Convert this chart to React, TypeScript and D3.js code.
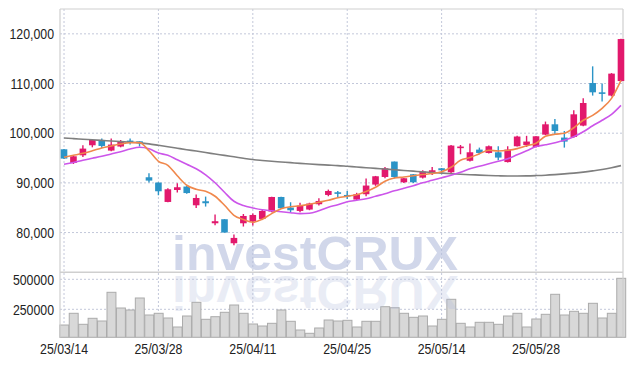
import * as d3 from "d3";
import { useEffect, useRef } from "react";

// trading days shown on the chart (yy/mm/dd)
const dates = [
  "25/03/14", "25/03/17", "25/03/18", "25/03/19", "25/03/20", "25/03/21", "25/03/24", "25/03/25", "25/03/26", "25/03/27",
  "25/03/28", "25/03/31", "25/04/01", "25/04/02", "25/04/03", "25/04/04", "25/04/07", "25/04/08", "25/04/09", "25/04/10",
  "25/04/11", "25/04/14", "25/04/15", "25/04/16", "25/04/17", "25/04/18", "25/04/21", "25/04/22", "25/04/23", "25/04/24",
  "25/04/25", "25/04/28", "25/04/29", "25/04/30", "25/05/02", "25/05/07", "25/05/08", "25/05/09", "25/05/12", "25/05/13",
  "25/05/14", "25/05/15", "25/05/16", "25/05/19", "25/05/20", "25/05/21", "25/05/22", "25/05/23", "25/05/26", "25/05/27",
  "25/05/28", "25/05/29", "25/05/30", "25/06/02", "25/06/04", "25/06/05", "25/06/09", "25/06/10", "25/06/11", "25/06/12",
];

const opens = [
  96760, 94000, 95550, 97570, 98510, 96500, 97310, 98510, 98370, 91130,
  90060, 86160, 88570, 89260, 85490, 86300, 81870, 82680, 77850, 81870,
  82220, 82740, 84230, 87160, 85030, 84350, 84630, 85700, 87570, 88110,
  87570, 86640, 87710, 89660, 91190, 94290, 90120, 91730, 91060, 92130,
  92940, 92130, 97040, 94450, 96700, 96020, 96160, 94190, 97370, 97630,
  97230, 99710, 101790, 99120, 99240, 101530, 110100, 108230, 107570, 110500,
];
const highs = [
  96800, 95400, 97570, 98700, 98920, 98920, 98630, 98920, 98400, 91930,
  90100, 88900, 89920, 89400, 87650, 87240, 83620, 82700, 79600, 83740,
  83820, 84750, 87200, 87200, 86100, 85980, 86000, 86900, 88650, 88370,
  88370, 88000, 90860, 91400, 93200, 94300, 91000, 91800, 92540, 93200,
  93000, 97600, 97630, 97910, 97100, 97500, 97370, 97370, 99470, 99470,
  99400, 102340, 102860, 100440, 104610, 107020, 113460, 109980, 112100, 119000,
];
const lows = [
  94800, 93800, 95210, 97160, 97020, 96360, 97160, 97710, 97310, 90060,
  87510, 86100, 88050, 87800, 84950, 85230, 81470, 80000, 77450, 81210,
  81410, 82600, 84100, 84800, 84090, 84090, 84500, 85430, 87310, 87160,
  86760, 86500, 87310, 89400, 90930, 90900, 90000, 90000, 90900, 91590,
  91730, 92000, 95760, 94300, 95760, 95900, 94550, 94100, 97300, 97230,
  97100, 99600, 99780, 97100, 99100, 101400, 107570, 106360, 107400, 110400,
];
const closes = [
  94890, 95350, 96900, 98630, 97430, 97710, 98230, 98110, 97970, 90460,
  88310, 88710, 89120, 87950, 86960, 85900, 82280, 80000, 78920, 83340,
  83540, 84350, 87160, 84890, 84490, 85430, 85840, 86360, 88370, 87850,
  87370, 87710, 89460, 91330, 92940, 91190, 90930, 90120, 92270, 92540,
  92540, 97510, 97310, 96160, 96020, 97370, 95090, 96700, 99330, 98320,
  99380, 101790, 100440, 98310, 103800, 106080, 108230, 107970, 111990, 118950,
];
const volumes = [
  119000, 216700, 125000, 175000, 152500, 391700, 260800, 244200, 344200, 202500,
  216700, 177500, 102500, 194200, 308300, 166700, 188300, 225000, 285800, 216700,
  127500, 110800, 133300, 244200, 150000, 77500, 50000, 94200, 160800, 152500,
  158300, 102500, 150000, 150000, 271700, 263300, 216700, 183300, 194200, 110800,
  166700, 333300, 133300, 102500, 141700, 141700, 125000, 194200, 216700, 102500,
  169200, 208300, 375000, 202500, 233300, 216700, 300000, 177500, 216700, 508300,
];

// moving averages
const ma5 = [
  95150, 95550, 95950, 96460, 97020, 97430, 97810, 98070, 98110, 96460,
  94350, 93540, 91430, 89520, 88710, 88310, 87310, 85490, 83480, 82620,
  82070, 82680, 83820, 84790, 85190, 85390, 85700, 86100, 86500, 87000,
  87310, 87610, 88250, 89120, 90320, 90970, 91170, 91430, 91670, 91890,
  92230, 93140, 94550, 95090, 95860, 96560, 96420, 96560, 96900, 97470,
  97970, 99380, 99780, 99980, 101090, 102600, 103600, 105010, 107020, 110640,
];
const ma20 = [
  93740, 94110, 94550, 94950, 95350, 95820, 96260, 96800, 97160, 96860,
  96020, 95550, 94650, 93740, 92840, 91630, 90020, 88110, 86300, 85430,
  84950, 84590, 84390, 84190, 83990, 83820, 83880, 84390, 85090, 85600,
  86200, 86500, 86800, 87310, 87810, 88410, 88910, 89420, 90020, 90520,
  91030, 91530, 92130, 92840, 93340, 93840, 94350, 94850, 95660, 96460,
  97300, 97670, 98070, 98570, 99280, 100280, 101490, 102600, 103800, 105610,
];
const ma60 = [
  99040, 98910, 98790, 98670, 98550, 98430, 98310, 98190, 98050, 97850,
  97570, 97280, 96980, 96680, 96400, 96100, 95820, 95530, 95250, 94970,
  94690, 94510, 94350, 94210, 94070, 93920, 93800, 93680, 93580, 93480,
  93340, 93200, 93060, 92920, 92780, 92640, 92500, 92360, 92210, 92090,
  91970, 91850, 91750, 91650, 91570, 91490, 91430, 91390, 91390, 91410,
  91470, 91550, 91670, 91810, 91970, 92170, 92420, 92700, 93060, 93480,
];

const priceTicks = [80000, 90000, 100000, 110000, 120000];
const volumeTicks = [250000, 500000];
const labelEvery = 10;

export default function App() {
  const ref = useRef<SVGSVGElement | null>(null);

  useEffect(() => {
    const el = ref.current;
    if (!el) return;
    const svg = d3.select<SVGSVGElement, unknown>(el);
    svg.selectAll("*").remove();

    const width = 634;
    const height = 366;
    const left = 60;
    const right = 623;
    const top = 9;
    const split = 272.3;
    const bottom = 337.3;

    const upColor = "#e2186c";
    const downColor = "#2b94c7";
    const gridColor = "#c3c8da";
    const frameColor = "#cfcfcf";
    const squeeze = 0.85; // narrow look of the tick labels

    svg.attr("width", width).attr("height", height).attr("viewBox", `0 0 ${width} ${height}`);
    svg.append("rect").attr("width", width).attr("height", height).attr("fill", "#fff");

    const idx = d3.range(dates.length).map(String);
    const x = d3.scaleBand<string>().domain(idx).range([59.3, 625.7]).padding(0);
    const cx = (i: number) => (x(String(i)) ?? 0) + x.bandwidth() / 2;

    const y = d3.scaleLinear().domain([72000, 125000]).range([split, top]);
    const yv = d3.scaleLinear().domain([16700, 558300]).range([bottom, split]);

    // grid
    const grid = svg.append("g").attr("stroke", gridColor).attr("stroke-dasharray", "2,2").attr("stroke-width", 1);
    grid
      .selectAll("line.hp")
      .data(priceTicks)
      .enter()
      .append("line")
      .attr("x1", left)
      .attr("x2", right)
      .attr("y1", (d) => y(d))
      .attr("y2", (d) => y(d));
    grid
      .selectAll("line.hv")
      .data(volumeTicks)
      .enter()
      .append("line")
      .attr("x1", left)
      .attr("x2", right)
      .attr("y1", (d) => yv(d))
      .attr("y2", (d) => yv(d));
    const labelIdx = d3.range(0, dates.length, labelEvery);
    grid
      .selectAll("line.v")
      .data(labelIdx)
      .enter()
      .append("line")
      .attr("x1", (i) => cx(i))
      .attr("x2", (i) => cx(i))
      .attr("y1", top)
      .attr("y2", bottom);

    // volume bars
    svg
      .append("g")
      .selectAll("rect")
      .data(volumes)
      .enter()
      .append("rect")
      .attr("x", (_, i) => (x(String(i)) ?? 0) + 0.5)
      .attr("y", (d) => yv(d))
      .attr("width", x.bandwidth() - 0.5)
      .attr("height", (d) => bottom - yv(d))
      .attr("fill", "#d8d8d8")
      .attr("stroke", "#ababab")
      .attr("stroke-width", 1);

    // watermark + reflection
    const wm = svg.append("g").attr("pointer-events", "none");
    const wmText = (g: d3.Selection<SVGGElement, unknown, null, undefined>, op: number) =>
      g
        .append("text")
        .attr("x", 172)
        .attr("y", 270)
        .attr("textLength", 286)
        .attr("lengthAdjust", "spacingAndGlyphs")
        .attr("font-family", "'Liberation Sans', Arial, sans-serif")
        .attr("font-weight", 700)
        .attr("font-size", 48)
        .attr("fill", "#b4bedd")
        .attr("opacity", op)
        .text("investCRUX");
    wmText(wm, 0.6);
    wmText(wm.append("g").attr("transform", "translate(0,546) scale(1,-1)"), 0.28);

    // frame
    const frame = svg.append("g").attr("stroke", frameColor).attr("stroke-width", 1.2);
    frame.append("line").attr("x1", left).attr("x2", left).attr("y1", top).attr("y2", bottom);
    frame.append("line").attr("x1", right).attr("x2", right).attr("y1", top).attr("y2", bottom);
    frame.append("line").attr("x1", left).attr("x2", right).attr("y1", top).attr("y2", top);
    frame.append("line").attr("x1", left).attr("x2", right).attr("y1", split).attr("y2", split).attr("stroke-width", 1.6);

    // candles
    const bodyW = x.bandwidth() * 0.7;
    const candles = svg.append("g").selectAll("g").data(dates).enter().append("g");
    candles
      .append("line")
      .attr("x1", (_, i) => cx(i))
      .attr("x2", (_, i) => cx(i))
      .attr("y1", (_, i) => y(highs[i]))
      .attr("y2", (_, i) => y(lows[i]))
      .attr("stroke", (_, i) => (closes[i] >= opens[i] ? upColor : downColor))
      .attr("stroke-width", 1.4);
    candles
      .append("rect")
      .attr("x", (_, i) => cx(i) - bodyW / 2)
      .attr("y", (_, i) => y(Math.max(opens[i], closes[i])))
      .attr("width", bodyW)
      .attr("height", (_, i) => Math.max(1.6, Math.abs(y(opens[i]) - y(closes[i]))))
      .attr("fill", (_, i) => (closes[i] >= opens[i] ? upColor : downColor));

    // moving averages
    const line = d3
      .line<number>()
      .x((_, i) => cx(i))
      .y((d) => y(d))
      .curve(d3.curveMonotoneX);
    const maSeries: [number[], string][] = [
      [ma60, "#7f7f7f"],
      [ma20, "#cc55ea"],
      [ma5, "#f0884c"],
    ];
    for (const [vals, color] of maSeries) {
      svg
        .append("path")
        .attr("d", line(vals) ?? "")
        .attr("fill", "none")
        .attr("stroke", color)
        .attr("stroke-width", 1.6);
    }

    // labels (squeezed horizontally)
    const labels = svg
      .append("g")
      .attr("font-family", "'Liberation Sans', Arial, sans-serif")
      .attr("font-size", 14.5)
      .attr("fill", "#222");
    labels
      .selectAll("text.p")
      .data(priceTicks)
      .enter()
      .append("text")
      .attr("transform", (d) => `translate(54,${y(d)}) scale(${squeeze},1)`)
      .attr("dy", "0.36em")
      .attr("text-anchor", "end")
      .text((d) => d3.format(",")(d));
    labels
      .selectAll("text.v")
      .data(volumeTicks)
      .enter()
      .append("text")
      .attr("transform", (d) => `translate(54,${yv(d)}) scale(${squeeze},1)`)
      .attr("dy", "0.36em")
      .attr("text-anchor", "end")
      .text((d) => String(d));
    labels
      .selectAll("text.x")
      .data(labelIdx)
      .enter()
      .append("text")
      .attr("transform", (i) => `translate(${cx(i)},354) scale(${squeeze},1)`)
      .attr("text-anchor", "middle")
      .text((i) => dates[i]);
  }, []);

  return <svg ref={ref} style={{ position: "absolute", left: 0, top: 0, display: "block" }} />;
}
